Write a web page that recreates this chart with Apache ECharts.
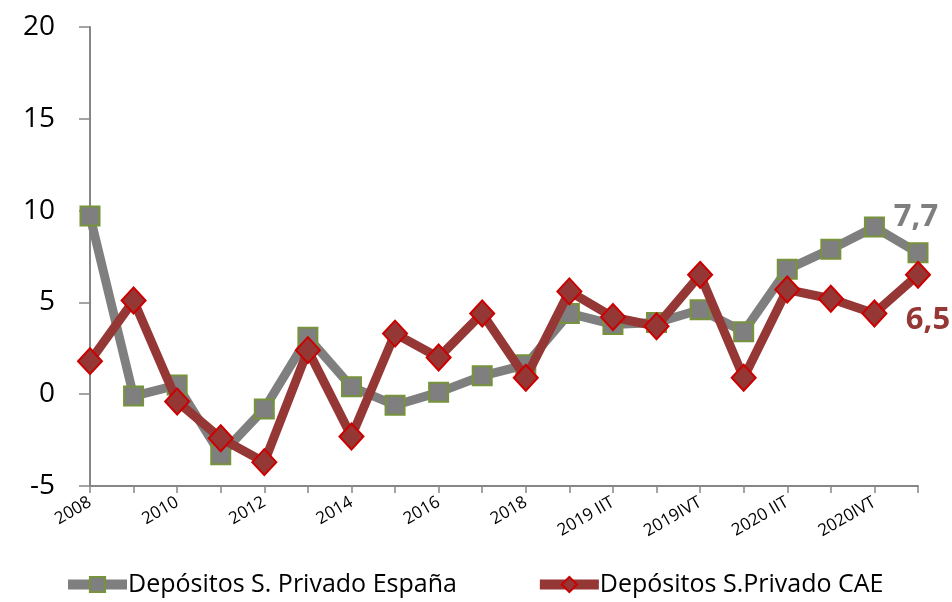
<!DOCTYPE html>
<html><head><meta charset="utf-8">
<script src="https://cdn.jsdelivr.net/npm/echarts@6/dist/echarts.min.js"></script>
<style>html,body{margin:0;padding:0;background:#fff}#c{width:952px;height:602px}</style>
</head><body><div id="c"></div>
<script>
const categories = ['2008','2009','2010','2011','2012','2013','2014','2015','2016','2017','2018',
  '2019 IT','2019 IIT','2019 IIIT','2019IVT','2020 IT','2020 IIT','2020 IIIT','2020IVT','2021 IT'];
const espana = [9.7,-0.1,0.5,-3.3,-0.8,3.1,0.4,-0.6,0.1,1.0,1.6,4.4,3.8,3.9,4.6,3.4,6.8,7.9,9.1,7.7];
const cae = [1.8,5.1,-0.4,-2.4,-3.7,2.4,-2.3,3.3,2.0,4.4,0.9,5.6,4.2,3.7,6.5,0.9,5.7,5.2,4.4,6.5];
const yTicks = {min:-5, max:20, interval:5};
const FONT = 'Open Sans';

const chart = echarts.init(document.getElementById('c'), null, {renderer:'canvas'});
function withEndLabel(arr, label){
  return arr.map((v,i)=> i===arr.length-1 ? {value:v, label:label} : v);
}
chart.setOption({
  animation:false,
  textStyle:{fontFamily:FONT},
  grid:{left:90, right:34, top:27, bottom:116, containLabel:false},
  legend:{
    bottom:0, left:58, itemGap:78, itemWidth:59, itemHeight:19,
    lineStyle:{width:10},
    textStyle:{fontSize:25, color:'#000', fontFamily:FONT, padding:[0,0,0,-4]},
    data:['Depósitos S. Privado España','Depósitos S.Privado CAE']
  },
  xAxis:{
    type:'category', data:categories, boundaryGap:false,
    axisLine:{onZero:false, lineStyle:{color:'#868686', width:2}},
    axisTick:{show:true, length:7, alignWithLabel:true, interval:0, lineStyle:{color:'#868686', width:1.5}},
    axisLabel:{interval:1, rotate:30, fontSize:17, color:'#000', margin:15, fontFamily:FONT},
    splitLine:{show:false}
  },
  yAxis:{
    type:'value', min:yTicks.min, max:yTicks.max, interval:yTicks.interval,
    axisLine:{show:true, lineStyle:{color:'#868686', width:2}},
    axisTick:{show:true, length:11, lineStyle:{color:'#868686', width:1.5}},
    axisLabel:{fontSize:28, color:'#000', margin:35, fontFamily:FONT},
    splitLine:{show:false}
  },
  series:[
    {
      name:'Depósitos S. Privado España', type:'line',
      data:withEndLabel(espana,{show:true, formatter:'7,7', position:'top', distance:10, offset:[-2,0],
        fontSize:31, fontWeight:'bold', color:'#7F7F7F', fontFamily:FONT}),
      symbol:'rect', symbolSize:19,
      lineStyle:{color:'#7F7F7F', width:9},
      itemStyle:{color:'#7F7F7F', borderColor:'#77933C', borderWidth:2},
      z:2
    },
    {
      name:'Depósitos S.Privado CAE', type:'line',
      data:withEndLabel(cae,{show:true, formatter:'6,5', position:'bottom', distance:16, offset:[10,0],
        fontSize:31, fontWeight:'bold', color:'#953735', fontFamily:FONT}),
      symbol:'diamond', symbolSize:[24,26],
      lineStyle:{color:'#953735', width:9},
      itemStyle:{color:'#953735', borderColor:'#CC0000', borderWidth:2},
      z:3
    }
  ]
});
</script></body></html>
